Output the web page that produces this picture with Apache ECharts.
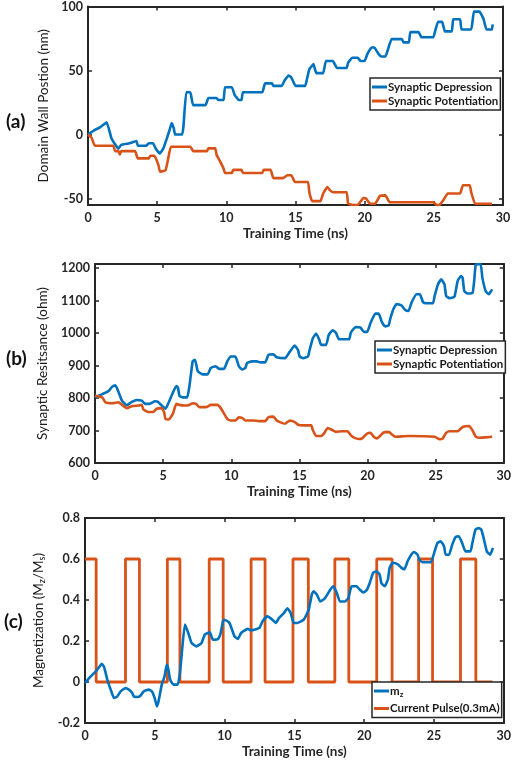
<!DOCTYPE html>
<html>
<head>
<meta charset="utf-8">
<script src="https://cdn.jsdelivr.net/npm/echarts@6/dist/echarts.min.js"></script>
<style>
  html, body { margin: 0; padding: 0; background: #fff; }
  #chart { width: 514px; height: 767px; }
</style>
</head>
<body>
<div id="chart"></div>
<script>
// (a) domain wall position, [time ns, nm]
const depressionA = [
  [0, 0], [0.5, 3.7], [0.87, 5.6], [1.35, 9.6], [1.7, -3], [2.2, -11], [2.4, -8], [3.0, -6.8],
  [3.5, -5], [3.6, -8.7], [4.2, -8.7], [4.4, -6.8], [4.7, -6.8], [4.9, -11], [5.2, -14.7],
  [5.45, -10.8], [5.7, -3], [5.9, 3.7], [6.05, 9], [6.2, 5], [6.3, 0], [6.8, 0], [6.9, 6.3],
  [7.1, 33], [7.4, 33], [7.6, 23], [8.5, 23], [8.7, 28.6], [9.3, 28.6], [9.4, 27], [9.8, 27],
  [9.9, 37], [10.4, 37], [10.6, 31], [10.9, 27], [11.1, 27], [11.2, 33], [12.6, 33], [12.8, 40],
  [13.3, 40], [13.4, 38], [14.0, 38], [14.2, 42], [14.5, 46], [14.7, 44.6], [15.0, 38], [15.7, 38],
  [15.8, 42], [16.0, 51], [16.3, 55], [16.5, 48], [17.0, 48], [17.2, 57.5], [17.7, 57.5], [18.0, 52],
  [18.7, 52], [18.8, 56], [19.1, 60], [19.5, 60], [19.7, 57.5], [20.0, 57.5], [20.2, 63], [20.5, 68],
  [20.7, 68], [21.0, 63], [21.2, 61], [21.5, 61], [21.7, 67], [21.95, 74.5], [22.7, 74.5], [22.8, 72],
  [23.2, 72], [23.3, 80], [23.9, 80], [24.1, 76], [24.96, 76], [25.1, 81], [25.3, 88], [25.6, 88],
  [25.8, 80.6], [26.3, 80.6], [26.4, 90], [26.9, 90], [27.0, 82], [27.7, 82], [27.9, 96], [28.3, 96],
  [28.6, 90], [28.8, 82], [29.2, 82], [29.25, 86]
];
const potentiationA = [
  [0, 0], [0.26, -2.6], [0.5, -8.7], [1.83, -8.7], [1.95, -12.9], [2.2, -12.9], [2.3, -15.5],
  [2.4, -12.9], [3.4, -12.9], [3.6, -18.6], [4.4, -18.6], [4.5, -16.5], [4.8, -16.5], [5.1, -24],
  [5.2, -29], [5.6, -28], [5.8, -18.6], [6.0, -9.5], [7.4, -9.5], [7.6, -12.9], [8.6, -12.9],
  [8.7, -10.8], [9.2, -10.8], [9.3, -16], [9.5, -20], [9.8, -26.5], [9.9, -30], [10.4, -30],
  [10.5, -27.6], [11.1, -27.6], [11.2, -30], [12.6, -30], [12.7, -27.6], [13.2, -27.6], [13.4, -34],
  [14.1, -34], [14.4, -31.8], [14.7, -31.8], [14.96, -37], [15.9, -37], [16.0, -45], [16.2, -52],
  [16.8, -52], [17.0, -46], [17.3, -41], [17.5, -43.6], [17.7, -45], [18.7, -45], [18.8, -54],
  [19.2, -55], [19.5, -55], [19.9, -49.6], [20.1, -50], [20.4, -54], [20.75, -54], [21.1, -48],
  [21.5, -47.5], [21.8, -52.8], [24.96, -52.8], [25.2, -55], [25.4, -55], [25.7, -51], [26.0, -46],
  [26.9, -46], [27.1, -39.6], [27.6, -39.6], [27.7, -45], [27.98, -54], [29.2, -54]
];

// (b) synaptic resistance, [time ns, ohm]
const depressionB = [
  [0, 802], [0.53, 812], [1.0, 822], [1.26, 835], [1.5, 839], [1.74, 817], [1.98, 792], [2.34, 778],
  [2.7, 788], [3.07, 794], [3.43, 792], [3.7, 782], [4.0, 782], [4.4, 790], [4.6, 789], [4.9, 777],
  [5.17, 767], [5.36, 782], [5.72, 817], [5.97, 837], [6.09, 832], [6.2, 807], [6.45, 802], [6.76, 802],
  [6.93, 837], [7.17, 913], [7.34, 918], [7.54, 883], [7.9, 873], [8.26, 873], [8.5, 893], [8.86, 898],
  [9.1, 890], [9.47, 890], [9.71, 913], [9.95, 928], [10.3, 928], [10.56, 898], [10.8, 888],
  [11.04, 893], [11.16, 908], [11.52, 913], [11.88, 913], [12.13, 910], [12.49, 910], [12.73, 933],
  [13.09, 935], [13.33, 926], [13.94, 923], [14.3, 943], [14.66, 962], [14.9, 948], [15.02, 928],
  [15.27, 923], [15.63, 928], [15.75, 948], [15.99, 984], [16.23, 999], [16.47, 979], [16.59, 964],
  [16.96, 964], [17.15, 994], [17.44, 1009], [17.68, 1001], [17.92, 981], [18.65, 981], [18.77, 1001],
  [19.13, 1019], [19.49, 1017], [19.73, 1004], [19.98, 1004], [20.22, 1031], [20.58, 1060],
  [20.82, 1060], [21.06, 1034], [21.3, 1021], [21.55, 1024], [21.67, 1044], [21.91, 1075],
  [22.15, 1090], [22.5, 1085], [22.75, 1072], [23.0, 1068], [23.24, 1095], [23.6, 1120], [23.84, 1120],
  [24.08, 1095], [24.32, 1092], [24.8, 1092], [24.93, 1115], [25.17, 1150], [25.41, 1166],
  [25.65, 1150], [25.77, 1115], [26.01, 1108], [26.38, 1112], [26.62, 1161], [26.86, 1176],
  [26.98, 1171], [27.1, 1130], [27.34, 1122], [27.7, 1123], [27.83, 1161], [27.95, 1211], [28.3, 1213],
  [28.43, 1171], [28.67, 1130], [28.9, 1120], [29.15, 1135]
];
const potentiationB = [
  [0, 807], [0.53, 802], [0.77, 787], [1.26, 784], [1.74, 787], [1.98, 779], [2.34, 769], [2.7, 775],
  [3.19, 777], [3.43, 779], [3.55, 765], [3.91, 757], [4.28, 757], [4.52, 767], [4.88, 769],
  [5.07, 757], [5.17, 736], [5.41, 734], [5.72, 752], [5.97, 782], [6.2, 779], [6.57, 777], [6.93, 779],
  [7.17, 784], [7.42, 782], [7.66, 772], [8.14, 772], [8.5, 779], [8.99, 779], [9.23, 769], [9.47, 752],
  [9.71, 736], [9.95, 731], [10.31, 731], [10.56, 741], [10.8, 739], [11.04, 731], [11.64, 731],
  [12.0, 729], [12.49, 729], [12.73, 741], [13.09, 743], [13.33, 731], [13.57, 726], [13.94, 721],
  [14.3, 731], [14.66, 726], [14.9, 718], [15.27, 716], [15.87, 716], [15.99, 701], [16.23, 683],
  [16.59, 683], [16.84, 693], [17.08, 708], [17.44, 701], [17.68, 696], [18.16, 698], [18.53, 698],
  [18.77, 686], [19.01, 678], [19.37, 674], [19.61, 676], [19.98, 691], [20.22, 693], [20.46, 681],
  [20.7, 676], [20.94, 684], [21.18, 694], [21.55, 696], [21.79, 688], [22.03, 681], [23.0, 683],
  [24.93, 681], [25.29, 673], [25.53, 676], [25.77, 693], [26.01, 698], [26.62, 698], [26.98, 711],
  [27.46, 714], [27.7, 701], [27.95, 681], [28.19, 678], [28.67, 679], [29.15, 681]
];

// (c) magnetization m_z and current pulse, [time ns, Mz/Ms]
const magnetizationC = [
  [0, -0.005], [0.31, 0.02], [0.54, 0.036], [0.78, 0.052], [1.02, 0.073], [1.2, 0.089], [1.37, 0.073],
  [1.6, 0.011], [1.84, -0.037], [2.08, -0.078], [2.32, -0.07], [2.55, -0.046], [2.9, -0.03],
  [3.14, -0.037], [3.38, -0.054], [3.5, -0.07], [3.74, -0.073], [3.97, -0.067], [4.2, -0.046],
  [4.56, -0.037], [4.8, -0.046], [4.99, -0.078], [5.15, -0.119], [5.27, -0.094], [5.5, -0.013],
  [5.7, 0.028], [5.86, 0.085], [5.98, 0.06], [6.1, 0.011], [6.34, -0.013], [6.64, -0.013], [6.8, 0.044],
  [6.97, 0.166], [7.16, 0.28], [7.4, 0.239], [7.64, 0.19], [7.99, 0.174], [8.35, 0.19], [8.58, 0.231],
  [8.94, 0.242], [9.17, 0.206], [9.53, 0.21], [9.72, 0.239], [9.88, 0.296], [10.0, 0.304],
  [10.35, 0.288], [10.71, 0.223], [10.95, 0.21], [11.18, 0.239], [11.66, 0.259], [11.89, 0.252],
  [12.48, 0.263], [12.72, 0.296], [13.07, 0.32], [13.43, 0.304], [13.66, 0.288], [13.9, 0.312],
  [14.26, 0.337], [14.5, 0.36], [14.73, 0.337], [14.96, 0.288], [15.2, 0.288], [15.67, 0.304],
  [16.03, 0.353], [16.26, 0.43], [16.38, 0.442], [16.62, 0.426], [16.86, 0.393], [17.21, 0.41],
  [17.57, 0.45], [17.8, 0.467], [18.04, 0.434], [18.27, 0.393], [18.63, 0.393], [18.87, 0.41],
  [19.1, 0.467], [19.46, 0.467], [19.69, 0.45], [19.93, 0.437], [20.17, 0.447], [20.4, 0.483],
  [20.64, 0.532], [20.87, 0.54], [21.11, 0.524], [21.23, 0.483], [21.47, 0.467], [21.7, 0.5],
  [21.82, 0.556], [22.06, 0.582], [22.41, 0.574], [22.65, 0.558], [22.88, 0.55], [23.12, 0.59],
  [23.36, 0.62], [23.59, 0.634], [23.83, 0.62], [23.95, 0.597], [24.18, 0.584], [24.78, 0.584],
  [25.01, 0.629], [25.25, 0.678], [25.48, 0.686], [25.72, 0.662], [25.84, 0.621], [26.08, 0.621],
  [26.31, 0.67], [26.55, 0.707], [26.78, 0.711], [27.02, 0.678], [27.26, 0.637], [27.61, 0.637],
  [27.73, 0.67], [27.97, 0.743], [28.2, 0.751], [28.39, 0.743], [28.56, 0.702], [28.79, 0.637],
  [29.03, 0.621], [29.22, 0.654]
];
// step 'end': level holds until the next time
const pulseC = [
  [0, 0.6], [0.8, 0], [2.9, 0.6], [3.9, 0], [5.9, 0.6], [6.8, 0], [8.9, 0.6], [9.9, 0],
  [11.9, 0.6], [12.9, 0], [14.9, 0.6], [16.0, 0], [17.9, 0.6], [18.9, 0], [20.9, 0.6], [22.0, 0],
  [23.9, 0.6], [24.9, 0], [26.9, 0.6], [28.0, 0], [29.2, 0]
];

const xTicks = [0, 5, 10, 15, 20, 25, 30];
const yTicksA = [-50, 0, 50, 100];
const yTicksB = [600, 700, 800, 900, 1000, 1100, 1200];
const yTicksC = [-0.2, 0, 0.2, 0.4, 0.6, 0.8];

const BLUE = "#0072BD";
const ORANGE = "#D95319";
const INK = "#262626";
const FONT = "Lato";

const chart = echarts.init(document.getElementById("chart"));

function axisPair(kind, grid, min, max, ticks, extra) {
  const base = {
    type: "value",
    gridIndex: grid,
    min: min,
    max: max,
    splitLine: { show: false },
    axisLine: { show: true, onZero: false, lineStyle: { color: INK, width: 2 } },
    axisTick: { inside: true, length: 4, customValues: ticks, lineStyle: { color: INK, width: 1.5 } },
  };
  const main = Object.assign({}, base, {
    position: kind === "x" ? "bottom" : "left",
    axisLabel: {
      customValues: ticks,
      formatter: (v) => String(v),
      color: INK,
      fontFamily: FONT,
      fontWeight: "bold",
      fontSize: 12.5,
      margin: kind === "x" ? 6 : 5,
    },
  }, extra);
  const mirror = Object.assign({}, base, {
    position: kind === "x" ? "top" : "right",
    axisLabel: { show: false },
  });
  return [main, mirror];
}

const xName = {
  name: "Training Time (ns)",
  nameLocation: "middle",
  nameGap: 22,
  nameTextStyle: { fontFamily: FONT, fontWeight: "bold", fontSize: 13.5, color: INK },
};
function yName(text, gap, rich) {
  return {
    name: text,
    nameLocation: "middle",
    nameGap: gap,
    nameTextStyle: { fontFamily: FONT, fontSize: 13.5, color: "#1a1a1a", rich: rich },
  };
}

const xAxes = [
  ...axisPair("x", 0, 0, 30, xTicks, xName),
  ...axisPair("x", 1, 0, 30, xTicks, xName),
  ...axisPair("x", 2, 0, 30, xTicks, xName),
];
const yAxes = [
  ...axisPair("y", 0, -55, 100, yTicksA, yName("Domain Wall Postion (nm)", 29)),
  ...axisPair("y", 1, 600, 1213, yTicksB, yName("Synaptic Resitsance (ohm)", 36)),
  ...axisPair("y", 2, -0.2, 0.8, yTicksC, yName("Magnetization (M{s|z}/M{s|s})", 31, {
    s: { fontFamily: FONT, fontSize: 9, color: "#1a1a1a", padding: [7, 0, 0, 0] },
  })),
];

function line(name, data, color, xi, yi, extra) {
  return Object.assign({
    name: name,
    type: "line",
    data: data,
    xAxisIndex: xi,
    yAxisIndex: yi,
    symbol: "none",
    smooth: 0.15,
    lineStyle: { color: color, width: 2.6 },
    itemStyle: { color: color },
    z: 3,
  }, extra);
}

const legendBase = {
  orient: "vertical",
  icon: "rect",
  itemWidth: 15,
  itemHeight: 3,
  itemGap: 2,
  padding: [3, 2, 3, 2],
  backgroundColor: "#fff",
  borderColor: INK,
  borderWidth: 1.5,
  borderRadius: 0,
  selectedMode: false,
  textStyle: { fontFamily: FONT, fontSize: 11.5, fontWeight: "bold", color: "#1a1a1a", padding: [0, 0, 0, -4] },
};

const option = {
  animation: false,
  backgroundColor: "#fff",
  grid: [
    { left: 88, right: 11, top: 6, height: 199 },
    { left: 95, right: 5, top: 264, height: 199 },
    { left: 85, right: 7, top: 518, height: 205 },
  ],
  xAxis: xAxes,
  yAxis: yAxes,
  legend: [
    Object.assign({}, legendBase, { left: 370, top: 78, data: ["Synaptic Depression", "Synaptic Potentiation"] }),
    Object.assign({}, legendBase, { left: 375, top: 341, data: ["Synaptic Depression", "Synaptic Potentiation"] }),
    Object.assign({}, legendBase, {
      left: 372,
      top: 682,
      itemGap: 4,
      data: ["mz", "Current Pulse(0.3mA)"],
      formatter: function (name) {
        return name === "mz" ? "{n|m}{s|z}" : name;
      },
      textStyle: Object.assign({}, legendBase.textStyle, {
        rich: {
          n: { fontFamily: FONT, fontSize: 11.5, fontWeight: "bold", color: "#1a1a1a" },
          s: { fontFamily: FONT, fontSize: 8, fontWeight: "bold", color: "#1a1a1a", padding: [7, 0, 0, 0] },
        },
      }),
    }),
  ],
  graphic: [
    { type: "text", left: 6, top: 112, style: { text: "(a)", font: "bold 19px Lato", fill: "#111" } },
    { type: "text", left: 6, top: 349, style: { text: "(b)", font: "bold 19px Lato", fill: "#111" } },
    { type: "text", left: 4, top: 612, style: { text: "(c)", font: "bold 19px Lato", fill: "#111" } },
  ],
  series: [
    line("Synaptic Depression", depressionA, BLUE, 0, 0, { smooth: 0.1 }),
    line("Synaptic Potentiation", potentiationA, ORANGE, 0, 0, { smooth: 0.1 }),
    line("Synaptic Depression", depressionB, BLUE, 2, 2),
    line("Synaptic Potentiation", potentiationB, ORANGE, 2, 2),
    line("Current Pulse(0.3mA)", pulseC, ORANGE, 4, 4, { smooth: false, step: "end", lineStyle: { color: ORANGE, width: 2.8 } }),
    line("mz", magnetizationC, BLUE, 4, 4, { z: 4 }),
  ],
};

chart.setOption(option);

window.addEventListener("resize", () => {
  chart.resize();
});
</script>
</body>
</html>
